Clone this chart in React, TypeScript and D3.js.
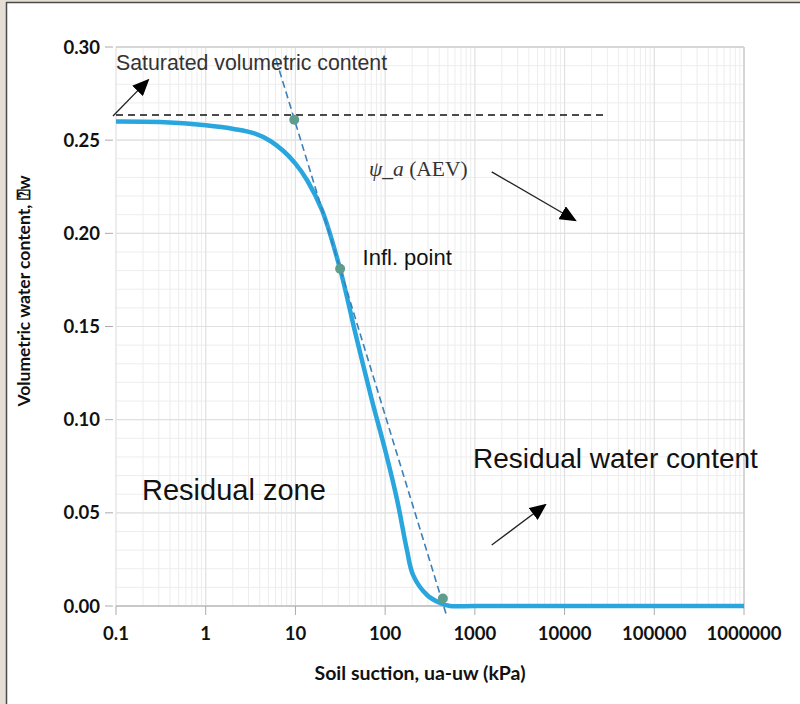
import React from "react";
import * as d3 from "d3";

// Soil-water characteristic curve (suction in kPa, volumetric water content)
const suction = [0.1, 0.31, 1, 2.12, 3.55, 5.2, 7.3, 9.9, 13.5, 19.8, 31.4, 46, 71, 100, 136, 175, 205, 293, 409, 528, 1000, 10000, 100000, 1000000];
const theta = [0.26, 0.2597, 0.258, 0.2559, 0.2535, 0.2497, 0.2443, 0.2377, 0.2285, 0.2124, 0.181, 0.1475, 0.1107, 0.0837, 0.0569, 0.03, 0.0166, 0.0059, 0.0016, 0, 0, 0, 0, 0];

// Tangent through the inflection point
const tangentSuction = [6.1, 490];
const tangentTheta = [0.293, -0.006];

// Key points: air-entry value, inflection point, residual point
const keySuction = [9.7, 31.5, 440];
const keyTheta = [0.261, 0.181, 0.004];

// Saturated volumetric content reference line
const saturatedSuction = [0.1, 30000];
const saturatedTheta = 0.2635;

const xTickValues = [0.1, 1, 10, 100, 1000, 10000, 100000, 1000000];
const xTickLabels = ["0.1", "1", "10", "100", "1000", "10000", "100000", "1000000"];
const yTickValues = [0, 0.05, 0.1, 0.15, 0.2, 0.25, 0.3];
const yTickLabels = ["0.00", "0.05", "0.10", "0.15", "0.20", "0.25", "0.30"];

// Annotation arrows [fromSuction, fromTheta, toSuction, toTheta]
const arrows = [
  [0.0926, 0.263, 0.2275, 0.2822],
  [1542, 0.233, 13100, 0.207],
  [1542, 0.0327, 6070, 0.0542],
];

const W = 800;
const H = 704;
const left = 116;
const right = 744;
const top = 47;
const bottom = 606;

export default function App() {
  const x = d3.scaleLog().domain([0.1, 1000000]).range([left, right]);
  const y = d3.scaleLinear().domain([0, 0.3]).range([bottom, top]);

  const minorX: number[] = [];
  for (let k = -1; k < 6; k++) {
    for (let m = 2; m <= 9; m++) minorX.push(m * Math.pow(10, k));
  }
  const minorY = d3.range(0, 31).map((i) => i / 100);

  const curve = d3
    .line<number>()
    .x((_, i) => x(suction[i]))
    .y((d) => y(d))
    .curve(d3.curveCatmullRom.alpha(0.5))(theta) as string;

  const tick = { fontFamily: "Lato, 'DejaVu Sans', sans-serif", fontWeight: 700, fill: "#111" };
  const sans = { fontFamily: "'Liberation Sans', Arial, sans-serif", fill: "#111" };

  return (
    <svg width={W} height={H} style={{ position: "absolute", left: 0, top: 0, background: "#fff" }}>
      <defs>
        <marker id="head" markerUnits="userSpaceOnUse" markerWidth="17" markerHeight="15" refX="15" refY="7.5" orient="auto">
          <path d="M0,0 L17,7.5 L0,15 Z" fill="#000" />
        </marker>
      </defs>
      {/* window frame */}
      <rect x={0} y={0} width={6} height={H} fill="#e4ded4" />
      <rect x={0} y={0} width={W} height={2} fill="#e4ded4" />
      <line x1={6.5} x2={6.5} y1={2} y2={H} stroke="#4a4a4a" strokeWidth={1.5} />
      <line x1={6} x2={W} y1={2.5} y2={2.5} stroke="#4a4a4a" strokeWidth={1.5} />

      {/* grid */}
      {minorY.map((v) => (
        <line key={"gy" + v} x1={left} x2={right} y1={y(v)} y2={y(v)} stroke="#ededed" strokeWidth={1} />
      ))}
      {minorX.map((v) => (
        <line key={"gx" + v} x1={x(v)} x2={x(v)} y1={top} y2={bottom} stroke="#ededed" strokeWidth={1} />
      ))}
      {yTickValues.map((v) => (
        <line key={"my" + v} x1={left} x2={right} y1={y(v)} y2={y(v)} stroke="#e0e0e0" strokeWidth={1.2} />
      ))}
      {xTickValues.map((v) => (
        <line key={"mx" + v} x1={x(v)} x2={x(v)} y1={top} y2={bottom} stroke="#e0e0e0" strokeWidth={1.2} />
      ))}
      <line x1={left} x2={right} y1={top} y2={top} stroke="#cfcfcf" strokeWidth={1.5} />
      <line x1={right} x2={right} y1={top} y2={bottom} stroke="#cfcfcf" strokeWidth={1.5} />
      <line x1={left} x2={right} y1={bottom} y2={bottom} stroke="#bdbdbd" strokeWidth={1.5} />

      {/* ticks */}
      {yTickValues.map((v, i) => (
        <g key={"ty" + v}>
          <line x1={105} x2={113} y1={y(v)} y2={y(v)} stroke="#aaa" />
          <text x={100} y={y(v)} dy="0.36em" textAnchor="end" fontSize={18.5} {...tick}>
            {yTickLabels[i]}
          </text>
        </g>
      ))}
      {xTickValues.map((v, i) => (
        <g key={"tx" + v}>
          <line x1={x(v)} x2={x(v)} y1={bottom} y2={bottom + 9} stroke="#aaa" />
          <text x={x(v)} y={640} textAnchor="middle" fontSize={18.5} {...tick}>
            {xTickLabels[i]}
          </text>
        </g>
      ))}

      {/* axis titles */}
      <text x={420} y={680} textAnchor="middle" fontSize={19.5} {...tick}>
        Soil suction, ua-uw (kPa)
      </text>
      <text transform="translate(30,291) rotate(-90)" textAnchor="middle" fontSize={17.5} {...tick}>
        Volumetric water content, ⍰w
      </text>

      {/* saturated line */}
      <line
        x1={x(saturatedSuction[0])}
        x2={x(saturatedSuction[1])}
        y1={y(saturatedTheta)}
        y2={y(saturatedTheta)}
        stroke="#111"
        strokeWidth={1.6}
        strokeDasharray="7,5"
      />

      {/* curve */}
      <path d={curve} fill="none" stroke="#29a6de" strokeWidth={4.5} strokeLinejoin="round" />

      {/* tangent */}
      <line
        x1={x(tangentSuction[0])}
        y1={y(tangentTheta[0])}
        x2={x(tangentSuction[1])}
        y2={y(tangentTheta[1])}
        stroke="#3b80ba"
        strokeWidth={1.6}
        strokeDasharray="7,4"
      />

      {keySuction.map((s, i) => (
        <circle key={"k" + i} cx={x(s)} cy={y(keyTheta[i])} r={5} fill="#5e9c8c" />
      ))}

      {/* annotations */}
      {arrows.map((a, i) => (
        <line
          key={"a" + i}
          x1={x(a[0])}
          y1={y(a[1])}
          x2={x(a[2])}
          y2={y(a[3])}
          stroke="#222"
          strokeWidth={1.3}
          markerEnd="url(#head)"
        />
      ))}
      <text x={x(0.1)} y={y(0.2876)} fontSize={21.3} {...sans} fill="#333">
        Saturated volumetric content
      </text>
      <text x={x(66)} y={y(0.2307)} fontSize={21.5} fontFamily="'Liberation Serif', 'Times New Roman', serif" fill="#333">
        <tspan fontStyle="italic">ψ_a</tspan> (AEV)
      </text>
      <text x={x(56)} y={y(0.183)} fontSize={22} {...sans}>
        Infl. point
      </text>
      <text x={x(955)} y={y(0.074)} fontSize={28} {...sans}>
        Residual water content
      </text>
      <text x={x(0.195)} y={y(0.0569)} fontSize={29} {...sans}>
        Residual zone
      </text>
    </svg>
  );
}
